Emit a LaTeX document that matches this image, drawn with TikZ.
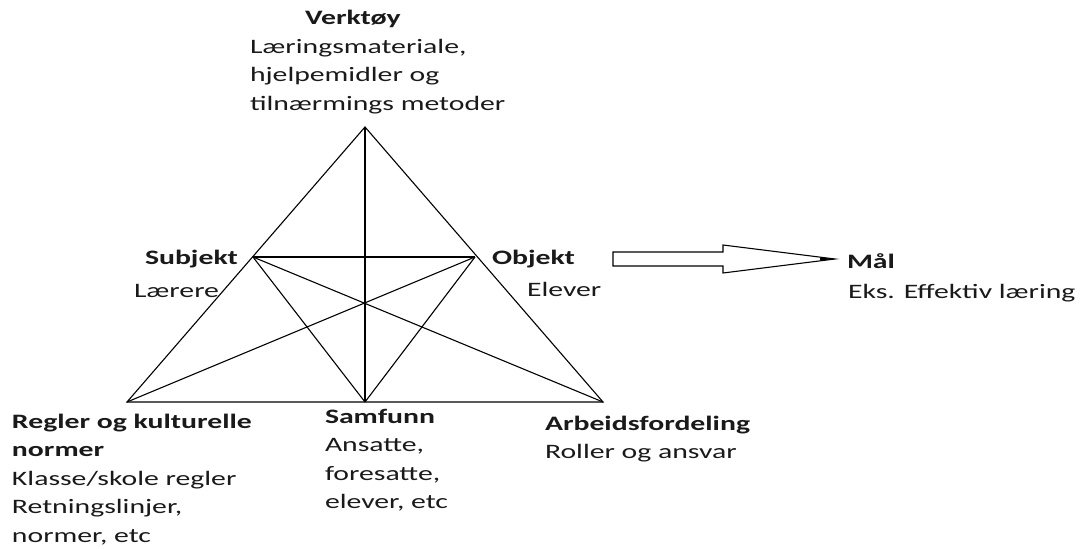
\documentclass[tikz,border=0pt]{standalone}
\usepackage{fontspec}
\setmainfont{Carlito}[FakeStretch=1.45]
\definecolor{txt}{HTML}{1A1A1A}
\begin{document}
\begin{tikzpicture}[x=1pt,y=-1pt,
  lbl/.style={anchor=base west,inner sep=0pt,outer sep=0pt,text=txt,align=left,
    font=\fontsize{20.5}{28.6}\selectfont},
  ttl/.style={lbl,font=\fontsize{20.5}{28.6}\selectfont\bfseries},
  edge/.style={draw=black,line width=1.1pt},
  blockarrow/.style={draw=black,line width=1.1pt,fill=white,line join=miter}]
\useasboundingbox (0,0) rectangle (1082,549);
\fill[white] (0,0) rectangle (1082,549);
% vertices
\coordinate (A) at (365,127);
\coordinate (S) at (253,257);
\coordinate (O) at (475,257);
\coordinate (BL) at (127,402);
\coordinate (BM) at (365,402);
\coordinate (BR) at (603,402);
% connectors
\draw[edge] (A) -- (BL) -- (BR) -- cycle;
\draw[edge] (A) -- (BM);
\draw[edge] (S) -- (O);
\draw[edge] (S) -- (BM);
\draw[edge] (O) -- (BM);
\draw[edge] (S) -- (BR);
\draw[edge] (O) -- (BL);
% block arrow
\coordinate (arrtip) at (835,259);
\draw[blockarrow] (613,252) -- (723,252) -- (723,245) -- (arrtip) -- (723,273) -- (723,266) -- (613,266) -- cycle;
\fill[black] (820,257.5) -- (arrtip) -- (820,260.5) -- cycle;
% labels (multi-line nodes: base = baseline of last line)
\node[ttl] (verk) at (305,24) {Verktøy};
\node[lbl] (verkt) at (250,110.2) {Læringsmateriale,\\hjelpemidler og\\tilnærmings metoder};
\node[ttl] (subj) at (145,264) {Subjekt};
\node[lbl] (subjt) at (134,297) {Lærere};
\node[ttl] (obj) at (492,264) {Objekt};
\node[lbl] (objt) at (527,296) {Elever};
\node[ttl] (maal) at (847,268) {Mål};
\node[lbl] (maalt) at (848,298) {Eks. Effektiv læring};
\node[lbl] (regler) at (12,542.4) {\textbf{Regler og kulturelle}\\\textbf{normer}\\Klasse/skole regler\\Retningslinjer,\\normer, etc};
\node[lbl] (samf) at (325,508.8) {\textbf{Samfunn}\\Ansatte,\\foresatte,\\elever, etc};
\node[lbl] (arb) at (545,458.6) {\textbf{Arbeidsfordeling}\\Roller og ansvar};
\end{tikzpicture}
\end{document}
